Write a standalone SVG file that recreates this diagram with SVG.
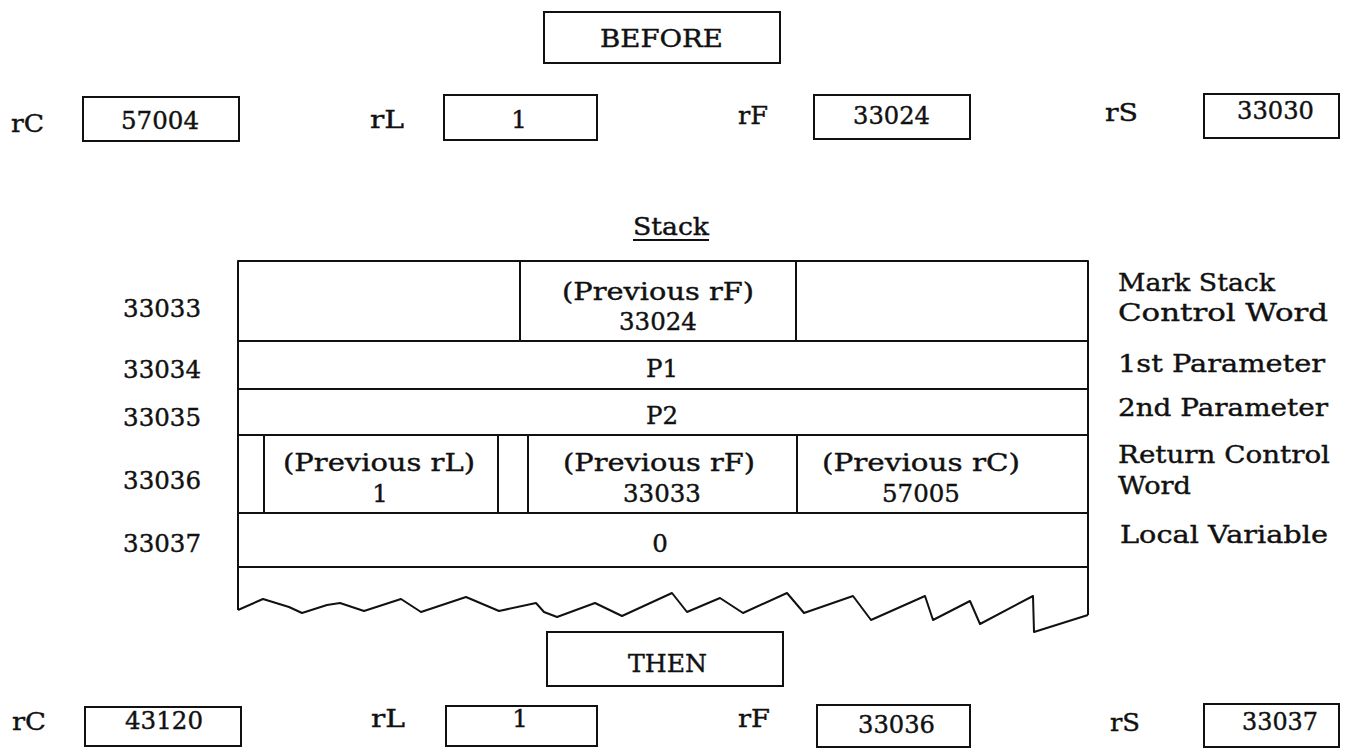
<svg xmlns="http://www.w3.org/2000/svg" width="1345" height="750" viewBox="0 0 1345 750">
<style>
.bx{fill:none;stroke:#111;stroke-width:2}
.ln{fill:none;stroke:#111;stroke-width:2;stroke-linejoin:round}
.t{font-family:"DejaVu Serif","Liberation Serif",serif;font-size:24.5px;fill:#111;stroke:#111;stroke-width:0.4}
.m{text-anchor:middle}
.e{text-anchor:end}
</style>
<rect width="1345" height="750" fill="#fff"/>

<g id="before-title">
<rect class="bx" x="544" y="12" width="236" height="51"/>
<text class="t" x="600" y="47" textLength="123" lengthAdjust="spacingAndGlyphs">BEFORE</text>
</g>

<g id="before-rC">
<text class="t" x="11" y="132" textLength="33" lengthAdjust="spacingAndGlyphs">rC</text>
<rect class="bx" x="83" y="97" width="156" height="44"/>
<text class="t" x="121" y="129" textLength="78" lengthAdjust="spacingAndGlyphs">57004</text>
</g>
<g id="before-rL">
<text class="t" x="370" y="128" textLength="34" lengthAdjust="spacingAndGlyphs">rL</text>
<rect class="bx" x="444" y="95" width="153" height="45"/>
<text class="t m" x="519" y="128">1</text>
</g>
<g id="before-rF">
<text class="t" x="738" y="124" textLength="30" lengthAdjust="spacingAndGlyphs">rF</text>
<rect class="bx" x="814" y="95" width="156" height="44"/>
<text class="t" x="853" y="124" textLength="77" lengthAdjust="spacingAndGlyphs">33024</text>
</g>
<g id="before-rS">
<text class="t" x="1105" y="121" textLength="33" lengthAdjust="spacingAndGlyphs">rS</text>
<rect class="bx" x="1204" y="94" width="135" height="44"/>
<text class="t" x="1237" y="119" textLength="77" lengthAdjust="spacingAndGlyphs">33030</text>
</g>

<g id="stack-title">
<text class="t" x="633" y="235" textLength="76" lengthAdjust="spacingAndGlyphs">Stack</text>
<line class="ln" x1="633" y1="240" x2="709" y2="240" stroke-width="1.6"/>
</g>

<g id="stack-frame">
<path class="ln" d="M238,610 L238,261 L1088,261 L1088,615"/>
<path class="ln" d="M238,610 L263,599 L289,607 L302,613 L327,605 L340,603 L364,611 L401,599 L421,612 L466,597 L499,611 L536,603 L544,612 L557,617 L595,603 L622,616 L672,593 L687,612 L720,598 L743,613 L787,593 L804,613 L853,596 L871,620 L925,596 L933,620 L970,601 L980,624 L1033,596 L1034,632 L1088,615"/>
</g>

<g id="row-33033">
<line class="ln" x1="520" y1="261" x2="520" y2="341"/>
<line class="ln" x1="796" y1="261" x2="796" y2="341"/>
<line class="ln" x1="238" y1="341" x2="1088" y2="341"/>
<text class="t e" x="201" y="317">33033</text>
<text class="t" x="562" y="300" textLength="192" lengthAdjust="spacingAndGlyphs">(Previous rF)</text>
<text class="t m" x="658" y="330">33024</text>
<text class="t" x="1118" y="291" textLength="157" lengthAdjust="spacingAndGlyphs">Mark Stack</text>
<text class="t" x="1118" y="321" textLength="210" lengthAdjust="spacingAndGlyphs">Control Word</text>
</g>

<g id="row-33034">
<line class="ln" x1="238" y1="389" x2="1088" y2="389"/>
<text class="t e" x="201" y="378">33034</text>
<text class="t m" x="662" y="377">P1</text>
<text class="t" x="1118" y="372" textLength="207" lengthAdjust="spacingAndGlyphs">1st Parameter</text>
</g>

<g id="row-33035">
<line class="ln" x1="238" y1="435" x2="1088" y2="435"/>
<text class="t e" x="201" y="426">33035</text>
<text class="t m" x="662" y="424">P2</text>
<text class="t" x="1118" y="416" textLength="210" lengthAdjust="spacingAndGlyphs">2nd Parameter</text>
</g>

<g id="row-33036">
<line class="ln" x1="264" y1="435" x2="264" y2="513"/>
<line class="ln" x1="498" y1="435" x2="498" y2="513"/>
<line class="ln" x1="528" y1="435" x2="528" y2="513"/>
<line class="ln" x1="797" y1="435" x2="797" y2="513"/>
<line class="ln" x1="238" y1="513" x2="1088" y2="513"/>
<text class="t e" x="201" y="489">33036</text>
<text class="t" x="283" y="471" textLength="192" lengthAdjust="spacingAndGlyphs">(Previous rL)</text>
<text class="t m" x="380" y="502">1</text>
<text class="t" x="563" y="471" textLength="192" lengthAdjust="spacingAndGlyphs">(Previous rF)</text>
<text class="t m" x="662" y="502">33033</text>
<text class="t" x="822" y="471" textLength="198" lengthAdjust="spacingAndGlyphs">(Previous rC)</text>
<text class="t m" x="921" y="502">57005</text>
<text class="t" x="1118" y="463" textLength="212" lengthAdjust="spacingAndGlyphs">Return Control</text>
<text class="t" x="1118" y="494" textLength="73" lengthAdjust="spacingAndGlyphs">Word</text>
</g>

<g id="row-33037">
<line class="ln" x1="238" y1="567" x2="1088" y2="567"/>
<text class="t e" x="201" y="552">33037</text>
<text class="t m" x="660" y="552">0</text>
<text class="t" x="1120" y="543" textLength="208" lengthAdjust="spacingAndGlyphs">Local Variable</text>
</g>

<g id="then-title">
<rect class="bx" x="547" y="632" width="236" height="54"/>
<text class="t" x="628" y="672" textLength="79" lengthAdjust="spacingAndGlyphs">THEN</text>
</g>

<g id="then-rC">
<text class="t" x="12" y="730" textLength="34" lengthAdjust="spacingAndGlyphs">rC</text>
<rect class="bx" x="85" y="707" width="156" height="39"/>
<text class="t" x="125" y="729" textLength="78" lengthAdjust="spacingAndGlyphs">43120</text>
</g>
<g id="then-rL">
<text class="t" x="371" y="727" textLength="34" lengthAdjust="spacingAndGlyphs">rL</text>
<rect class="bx" x="446" y="706" width="151" height="40"/>
<text class="t m" x="520" y="727">1</text>
</g>
<g id="then-rF">
<text class="t" x="738" y="727" textLength="32" lengthAdjust="spacingAndGlyphs">rF</text>
<rect class="bx" x="817" y="705" width="153" height="42"/>
<text class="t" x="858" y="733" textLength="77" lengthAdjust="spacingAndGlyphs">33036</text>
</g>
<g id="then-rS">
<text class="t" x="1110" y="731" textLength="30" lengthAdjust="spacingAndGlyphs">rS</text>
<rect class="bx" x="1204" y="704" width="135" height="43"/>
<text class="t" x="1242" y="730" textLength="76" lengthAdjust="spacingAndGlyphs">33037</text>
</g>
</svg>
